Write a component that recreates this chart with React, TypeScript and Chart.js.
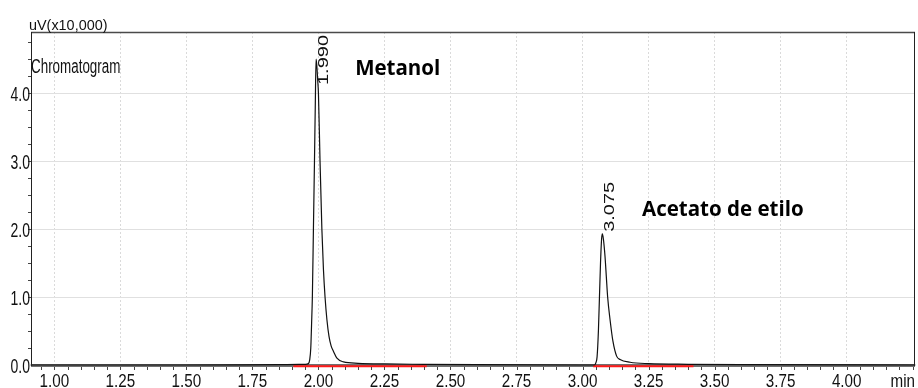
import React, { useEffect, useRef } from "react";
import { Chart, registerables } from "chart.js";

Chart.register(...registerables);

// Retention time (min) and detector signal (uV x10,000)
const retentionTimes = [
  0.91, 1.5, 1.85, 1.95, 1.962, 1.967, 1.971, 1.974, 1.977, 1.981, 1.985, 1.988, 1.991, 1.994,
  1.997, 2.0, 2.006, 2.013, 2.019, 2.025, 2.032, 2.04, 2.048, 2.057, 2.07, 2.095, 2.15, 2.25,
  2.4, 2.6, 3.0, 3.045, 3.05, 3.055, 3.06, 3.064, 3.068, 3.072, 3.075, 3.079, 3.085, 3.09,
  3.095, 3.104, 3.115, 3.129, 3.142, 3.18, 3.25, 3.4, 3.6, 4.26,
];
const signal = [
  0.0, 0.0, 0.005, 0.01, 0.02, 0.08, 0.25, 0.6, 1.0, 2.0, 3.0, 3.8, 4.5, 4.4,
  4.2, 4.0, 3.0, 2.0, 1.4, 1.0, 0.67, 0.42, 0.28, 0.2, 0.1, 0.045, 0.025, 0.015,
  0.01, 0.005, 0.0, 0.0, 0.03, 0.12, 0.5, 1.0, 1.5, 1.85, 1.93, 1.85, 1.6, 1.3,
  1.0, 0.67, 0.35, 0.13, 0.08, 0.04, 0.02, 0.01, 0.005, 0.0,
];

const xTickValues = [1.0, 1.25, 1.5, 1.75, 2.0, 2.25, 2.5, 2.75, 3.0, 3.25, 3.5, 3.75, 4.0];
const xTickLabels = ["1.00", "1.25", "1.50", "1.75", "2.00", "2.25", "2.50", "2.75", "3.00", "3.25", "3.50", "3.75", "4.00"];
const yTickValues = [0, 1, 2, 3, 4];
const yTickLabels = ["0.0", "1.0", "2.0", "3.0", "4.0"];

const peakTimes = [1.99, 3.075];
const peakHeights = [4.5, 1.93];
const peakLabels = ["1.990", "3.075"];
const compoundNames = ["Metanol", "Acetato de etilo"];
const compoundTimes = [2.139, 3.225];
const compoundLevels = [4.27, 2.185];

const integrationStarts = [1.905, 3.04];
const integrationEnds = [2.41, 3.42];

const X_MIN = 0.9117;
const X_MAX = 4.2587;
const Y_MIN = -0.015;
const Y_MAX = 4.9;

function squeezed(ctx: CanvasRenderingContext2D, text: string, x: number, y: number, font: string, sx: number, align: CanvasTextAlign) {
  ctx.save();
  ctx.font = font;
  ctx.textAlign = align;
  ctx.textBaseline = "alphabetic";
  ctx.translate(x, y);
  ctx.scale(sx, 1);
  ctx.fillText(text, 0, 0);
  ctx.restore();
}

const decor = {
  id: "decor",
  beforeDatasetsDraw(chart: any) {
    const { ctx, chartArea: a, scales } = chart;
    const y0 = scales.y.getPixelForValue(0);
    ctx.save();
    ctx.strokeStyle = "#707070";
    ctx.lineWidth = 3;
    ctx.beginPath();
    ctx.moveTo(a.left, y0 + 0.5);
    ctx.lineTo(a.right, y0 + 0.5);
    ctx.stroke();
    ctx.restore();
  },
  afterDraw(chart: any) {
    const { ctx, chartArea: a, scales } = chart;
    const xs = scales.x;
    const ys = scales.y;
    ctx.save();
    // frame
    ctx.strokeStyle = "#4a4a4a";
    ctx.lineWidth = 1.5;
    ctx.beginPath();
    ctx.moveTo(a.left, a.top + 0.5);
    ctx.lineTo(a.right, a.top + 0.5);
    ctx.stroke();
    ctx.strokeStyle = "#222";
    ctx.lineWidth = 1;
    ctx.beginPath();
    ctx.moveTo(a.left + 0.5, a.top);
    ctx.lineTo(a.left + 0.5, a.bottom);
    ctx.moveTo(a.right - 0.5, a.top);
    ctx.lineTo(a.right - 0.5, a.bottom);
    ctx.stroke();

    // minor ticks
    const y0 = ys.getPixelForValue(0);
    ctx.strokeStyle = "#444";
    ctx.beginPath();
    for (let i = 19; i * 0.05 <= X_MAX; i++) {
      const px = Math.round(xs.getPixelForValue(i * 0.05)) + 0.5;
      ctx.moveTo(px, y0 + 2);
      ctx.lineTo(px, y0 + 5);
    }
    for (let j = 1; j * 0.25 <= Y_MAX; j++) {
      const py = Math.round(ys.getPixelForValue(j * 0.25)) + 0.5;
      ctx.moveTo(a.left - 3, py);
      ctx.lineTo(a.left, py);
    }
    ctx.stroke();

    ctx.fillStyle = "#111";
    // y tick labels
    yTickValues.forEach((v, i) => {
      const py = ys.getPixelForValue(v);
      squeezed(ctx, yTickLabels[i], a.left - 1, py + 8, "20px 'Liberation Sans', Arial, sans-serif", 0.7, "right");
    });
    // x tick labels
    xTickValues.forEach((v, i) => {
      const px = xs.getPixelForValue(v);
      squeezed(ctx, xTickLabels[i], px, 386.5, "19px 'Liberation Sans', Arial, sans-serif", 0.8, "center");
    });
    squeezed(ctx, "min", a.right, 386.5, "19px 'Liberation Sans', Arial, sans-serif", 0.8, "right");

    // titles
    squeezed(ctx, "uV(x10,000)", 29, 29.5, "15px 'Liberation Sans', Arial, sans-serif", 0.96, "left");
    squeezed(ctx, "Chromatogram", a.left, 73, "20px 'Liberation Sans', Arial, sans-serif", 0.67, "left");

    // peak retention labels (rotated)
    const labelFont = "20px 'Liberation Sans', Arial, sans-serif";
    ctx.font = labelFont;
    peakLabels.forEach((lbl, i) => {
      const px = xs.getPixelForValue(peakTimes[i]) + 12;
      const len = ctx.measureText(lbl).width;
      const startY = Math.max(ys.getPixelForValue(peakHeights[i]) - 2, a.top + 3 + len);
      ctx.save();
      ctx.translate(px, startY);
      ctx.rotate(-Math.PI / 2);
      ctx.scale(1, 0.72);
      ctx.font = labelFont;
      ctx.textAlign = "left";
      ctx.textBaseline = "alphabetic";
      ctx.fillText(lbl, 0, 0);
      ctx.restore();
    });

    // compound names
    ctx.fillStyle = "#000";
    ctx.font = "bold 20.5px 'Open Sans', sans-serif";
    ctx.textAlign = "left";
    ctx.textBaseline = "alphabetic";
    compoundNames.forEach((name, i) => {
      ctx.fillText(name, xs.getPixelForValue(compoundTimes[i]), ys.getPixelForValue(compoundLevels[i]));
    });
    ctx.restore();
  },
};

export default function App() {
  const ref = useRef<HTMLCanvasElement | null>(null);

  useEffect(() => {
    document.body.style.margin = "0";
    const canvas = ref.current;
    if (!canvas) return;
    const trace = retentionTimes.map((t, i) => ({ x: t, y: signal[i] }));
    const integration = integrationStarts.map((s, i) => ({
      data: [
        { x: s, y: -0.018 },
        { x: integrationEnds[i], y: -0.018 },
      ],
      borderColor: "#ff1a1a",
      borderWidth: 2,
      pointRadius: 0,
      clip: false,
      order: 1,
    }));
    const chart = new Chart(canvas, {
      type: "line",
      data: {
        datasets: [
          {
            data: trace,
            borderColor: "#111111",
            borderWidth: 1.2,
            pointRadius: 0,
            cubicInterpolationMode: "monotone",
            clip: false,
            order: 0,
          },
          ...integration,
        ],
      },
      options: {
        responsive: false,
        maintainAspectRatio: false,
        animation: false,
        layout: { padding: { top: 32, right: 3, left: 0, bottom: 0 } },
        plugins: { legend: { display: false }, tooltip: { enabled: false } },
        scales: {
          x: {
            type: "linear",
            min: X_MIN,
            max: X_MAX,
            afterBuildTicks: (s: any) => {
              s.ticks = xTickValues.map((v) => ({ value: v }));
            },
            afterFit: (s: any) => {
              s.height = 22;
            },
            ticks: { display: false },
            grid: { color: "#dadada", drawTicks: false, lineWidth: 1 },
            border: { display: false, dash: [2, 2] },
          },
          y: {
            type: "linear",
            min: Y_MIN,
            max: Y_MAX,
            afterBuildTicks: (s: any) => {
              s.ticks = yTickValues.map((v) => ({ value: v }));
            },
            afterFit: (s: any) => {
              s.width = 31;
            },
            ticks: { display: false },
            grid: { color: "#e0e0e0", drawTicks: false, lineWidth: 1 },
            border: { display: false },
          },
        },
      },
      plugins: [decor],
    } as any);
    return () => chart.destroy();
  }, []);

  return <canvas ref={ref} width={918} height={388} style={{ display: "block" }} />;
}
